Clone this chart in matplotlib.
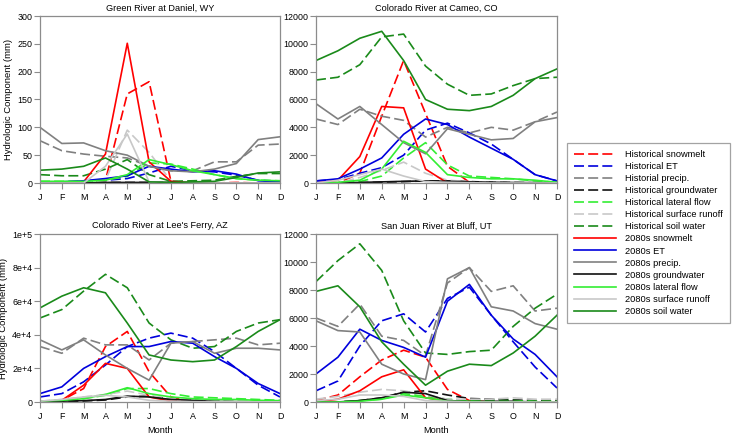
#!/usr/bin/env python3
"""
水文分量月变化图 - 四个站点, 历史 vs 2080s
"""

import matplotlib
matplotlib.use('Agg')
import matplotlib.pyplot as plt

plt.rcParams['font.family'] = ['Liberation Sans', 'DejaVu Sans']

months = ['J', 'F', 'M', 'A', 'M', 'J', 'J', 'A', 'S', 'O', 'N', 'D']

components = ['snowmelt', 'ET', 'precip.', 'groundwater', 'lateral flow',
              'surface runoff', 'soil water']
hist_labels = ['Historical snowmelt', 'Historical ET', 'Historial precip.',
               'Historical groundwater', 'Historical lateral flow',
               'Historical surface runoff', 'Historical soil water']
future_labels = ['2080s ' + c for c in components]

# 每个站点: 7 个分量 (snowmelt, ET, precip, groundwater, lateral, runoff, soil)
green_hist = [
    [0, 0, 0, 5, 160, 182, 3, 0, 0, 1, 0, 0],
    [1, 2, 3, 5, 8, 18, 30, 22, 20, 14, 5, 3],
    [76, 58, 52, 48, 45, 30, 22, 22, 38, 38, 68, 70],
    [0, 0, 0, 1, 1, 1, 1, 1, 0, 0, 0, 0],
    [3, 3, 3, 5, 12, 36, 34, 25, 15, 8, 5, 4],
    [0, 0, 0, 5, 95, 55, 4, 1, 0, 0, 0, 0],
    [15, 13, 13, 25, 42, 15, 3, 4, 5, 12, 17, 17],
]
green_2080 = [
    [0, 0, 2, 52, 251, 38, 3, 0, 0, 0, 0, 0],
    [1, 2, 4, 8, 13, 30, 25, 20, 22, 16, 4, 2],
    [100, 71, 72, 58, 50, 30, 22, 20, 25, 35, 78, 83],
    [0, 0, 0, 1, 1, 1, 1, 0, 0, 0, 0, 0],
    [3, 3, 3, 5, 15, 42, 33, 22, 15, 8, 5, 4],
    [0, 0, 0, 30, 88, 2, 0, 0, 0, 0, 0, 0],
    [23, 25, 30, 45, 25, 2, 1, 2, 3, 10, 18, 20],
]

cameo_hist = [
    [0, 0, 700, 4800, 8800, 5000, 1200, 50, 0, 0, 0, 0],
    [150, 250, 700, 1100, 2000, 3800, 4300, 3600, 2800, 1700, 600, 150],
    [4600, 4200, 5300, 4800, 4500, 3300, 4000, 3600, 4000, 3800, 4400, 5100],
    [0, 0, 20, 60, 100, 150, 150, 100, 60, 40, 20, 10],
    [0, 0, 100, 500, 1800, 2900, 1300, 500, 400, 300, 150, 50],
    [0, 0, 400, 900, 1500, 700, 200, 100, 50, 30, 20, 0],
    [7400, 7600, 8500, 10500, 10700, 8400, 7100, 6300, 6400, 7000, 7500, 7600],
]
cameo_2080 = [
    [0, 200, 1900, 5500, 5400, 1000, 0, 0, 0, 0, 0, 0],
    [150, 300, 1000, 1800, 3500, 4600, 4200, 3300, 2500, 1700, 600, 150],
    [5700, 4600, 5500, 4200, 2900, 2100, 3900, 3500, 3100, 3200, 4400, 4700],
    [0, 10, 40, 80, 120, 150, 120, 80, 50, 30, 20, 10],
    [0, 50, 200, 1000, 3000, 2200, 600, 400, 300, 300, 200, 50],
    [0, 200, 600, 1000, 500, 100, 50, 20, 0, 0, 0, 0],
    [8800, 9500, 10400, 10900, 8800, 6000, 5300, 5200, 5500, 6300, 7500, 8200],
]

lees_hist = [
    [0, 1000, 8000, 33000, 42000, 18000, 3000, 0, 0, 0, 0, 0],
    [3000, 5000, 12000, 22000, 33000, 38000, 41000, 38000, 30000, 20000, 10000, 3000],
    [33000, 29000, 38000, 34000, 34000, 25000, 35000, 36000, 37000, 38000, 34000, 35000],
    [0, 300, 600, 1200, 3000, 3500, 1500, 1000, 400, 200, 100, 0],
    [500, 1000, 2000, 4000, 8000, 8000, 5000, 3000, 2500, 2000, 1500, 1000],
    [500, 1500, 3000, 4500, 6500, 4000, 2000, 1000, 500, 300, 200, 100],
    [50000, 55000, 66000, 76000, 68000, 47000, 37000, 32000, 33000, 42000, 47000, 49000],
]
lees_2080 = [
    [0, 1000, 10000, 23000, 20000, 3000, 500, 0, 0, 0, 0, 0],
    [5000, 9000, 20000, 27000, 33000, 33000, 36000, 35000, 27000, 20000, 11000, 5000],
    [37000, 31000, 37000, 28000, 20000, 13000, 35000, 36000, 29000, 32000, 32000, 31000],
    [0, 500, 800, 1500, 3500, 3000, 1500, 1000, 300, 200, 100, 0],
    [500, 1000, 2000, 4500, 8500, 5000, 3000, 2000, 1500, 1500, 1000, 800],
    [500, 1500, 3000, 4000, 3000, 1000, 500, 200, 100, 100, 100, 100],
    [56000, 63000, 68000, 65000, 47000, 28000, 25000, 24000, 25000, 33000, 42000, 49000],
]

sanjuan_hist = [
    [100, 500, 1800, 3000, 3700, 3200, 900, 100, 0, 0, 0, 0],
    [800, 1500, 4000, 5800, 6300, 5000, 7400, 8200, 6200, 4300, 2500, 1000],
    [6000, 5400, 7000, 4700, 4400, 3300, 8500, 9600, 7900, 8300, 6500, 6700],
    [0, 0, 100, 300, 700, 800, 500, 250, 200, 150, 100, 100],
    [0, 0, 100, 200, 600, 400, 200, 100, 100, 100, 50, 50],
    [200, 400, 700, 900, 800, 500, 200, 200, 200, 300, 200, 200],
    [8600, 10100, 11300, 9400, 5800, 3500, 3400, 3600, 3700, 5400, 6700, 7700],
]
sanjuan_2080 = [
    [0, 200, 800, 1800, 2300, 300, 50, 0, 0, 0, 0, 0],
    [2000, 3200, 5200, 4400, 3900, 3200, 7200, 8400, 6200, 4500, 3400, 1800],
    [5800, 5100, 5000, 2700, 2000, 1600, 8800, 9600, 6800, 6500, 5600, 5200],
    [0, 0, 100, 300, 700, 600, 100, 50, 50, 50, 0, 0],
    [0, 0, 50, 200, 500, 300, 50, 50, 0, 0, 0, 0],
    [100, 200, 500, 500, 400, 100, 50, 0, 0, 0, 0, 0],
    [7900, 8300, 6800, 4300, 2700, 1200, 2200, 2700, 2600, 3500, 4700, 6200],
]

colors = ['#ff0000', '#0000dd', '#808080', '#111111', '#33ee33', '#c8c8c8', '#1a8a1a']

panels = [
    ('Green River at Daniel, WY', green_hist, green_2080, [0, 50, 100, 150, 200, 250, 300], None),
    ('Colorado River at Cameo, CO', cameo_hist, cameo_2080, list(range(0, 12001, 2000)), None),
    ("Colorado River at Lee's Ferry, AZ", lees_hist, lees_2080, list(range(0, 100001, 20000)),
     ['0', '2e+4', '4e+4', '6e+4', '8e+4', '1e+5']),
    ('San Juan River at Bluff, UT', sanjuan_hist, sanjuan_2080, list(range(0, 12001, 2000)), None),
]

# 坐标区位置 (像素 -> 比例)
W, H = 732, 436
boxes = [(40, 16, 280, 183), (316, 16, 557, 183), (40, 234, 280, 402), (316, 234, 557, 402)]

fig = plt.figure(figsize=(W / 100, H / 100), dpi=100)
spine_color = '#8c8c8c'
x = range(len(months))
handles = []

for i, (title, hist, fut, yticks, ylabels) in enumerate(panels):
    l, t, r, b = boxes[i]
    ax = fig.add_axes([l / W, 1 - b / H, (r - l) / W, (b - t) / H])

    lines = []
    for vals, c, lab in zip(hist, colors, hist_labels):
        ln, = ax.plot(x, vals, color=c, lw=1.2, dashes=(6, 2.5), label=lab)
        lines.append(ln)
    for vals, c, lab in zip(fut, colors, future_labels):
        ln, = ax.plot(x, vals, color=c, lw=1.2, label=lab)
        lines.append(ln)
    if i == 0:
        handles = lines

    ax.set_xlim(0, 11)
    ax.set_ylim(yticks[0], yticks[-1])
    ax.set_xticks(list(x))
    ax.set_xticklabels(months)
    ax.set_yticks(yticks)
    if ylabels:
        ax.set_yticklabels(ylabels)
    ax.tick_params(labelsize=6.4, color=spine_color, length=4, width=0.8, pad=1.5)
    ax.tick_params(axis='x', pad=3)
    for s in ax.spines.values():
        s.set_color(spine_color)
        s.set_linewidth(0.9)
    ax.set_title(title, fontsize=6.6, pad=4)

    if i % 2 == 0:
        ax.set_ylabel('Hydrologic Component (mm)', fontsize=6.8, labelpad=3)
    if i >= 2:
        ax.set_xlabel('Month', fontsize=6.6, labelpad=4)

# 图例
leg = fig.legend(handles=handles, loc='upper left',
                 bbox_to_anchor=(567 / W, 1 - 143 / H),
                 fontsize=6.7, frameon=True, fancybox=False,
                 handlelength=4.5, handletextpad=1.0, labelspacing=0.33,
                 borderpad=0.75, borderaxespad=0)
leg.get_frame().set_edgecolor(spine_color)
leg.get_frame().set_linewidth(0.9)

plt.savefig('out.png', dpi=100)
